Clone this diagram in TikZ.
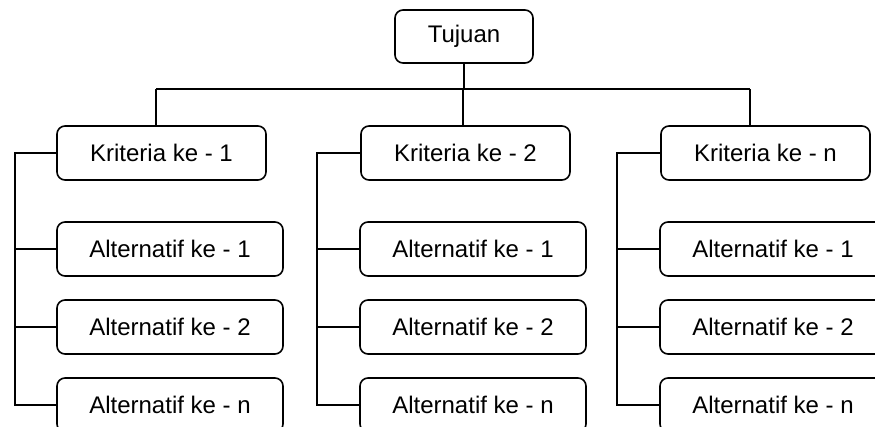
\documentclass[tikz,border=0pt]{standalone}
\usepackage{fontspec}
\setmainfont{Liberation Sans}
\usetikzlibrary{positioning}

\begin{document}
\begin{tikzpicture}[x=1pt, y=-1pt, line width=1.6pt,
    box/.style={draw, rounded corners=8pt, fill=white, font=\fontsize{24}{28}\selectfont, inner sep=0pt, minimum height=54pt},
    goalbox/.style={box, minimum width=138pt, minimum height=53pt},
    critbox/.style={box, minimum width=209pt},
    altbox/.style={box, minimum width=226pt}]
  \clip (0,0) rectangle (875,426);
  \node[goalbox] (tujuan) at (464,36.5) {Tujuan};
  \foreach \i/\kx/\ax/\sx/\tx in {1/161.5/170/15/156, 2/465.5/473/317/463, n/765.5/773/617/750}
  {
    \node[critbox] (k\i) at (\kx,153) {Kriteria ke - \i};
    \coordinate (t\i) at (\tx,89);
    \coordinate (s\i) at (\sx,300);
    \draw (t\i) -- (t\i |- k\i.north);
    \foreach \j/\y in {1/249, 2/327, n/405}
    {
      \node[altbox] (a\i-\j) at (\ax,\y) {Alternatif ke - \j};
      \draw (a\i-\j.west) -- (a\i-\j.west -| s\i);
    }
    \draw (k\i.west) -| (s\i) |- (a\i-n.west);
  }
  \draw (t1) -- (tn);
  \draw (tujuan.south) -- (tujuan.south |- t1);
\end{tikzpicture}
\end{document}
